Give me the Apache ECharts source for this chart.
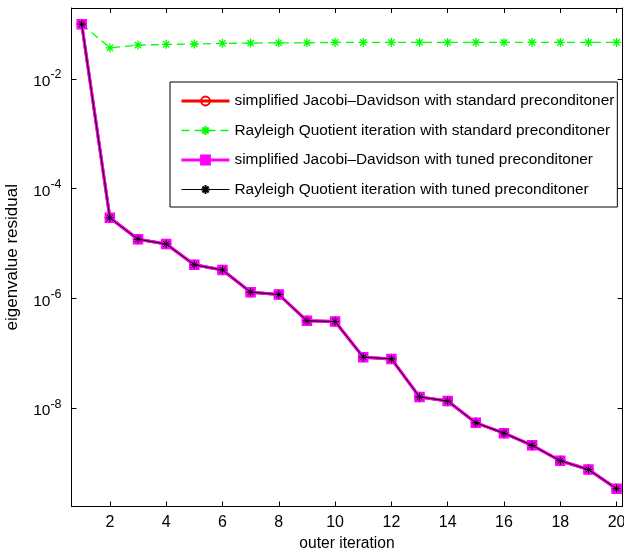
<!DOCTYPE html>
<html>
<head>
<meta charset="utf-8">
<script src="https://cdn.jsdelivr.net/npm/echarts@6/dist/echarts.min.js"></script>
<style>
html,body{margin:0;padding:0;background:#fff;}
#chart{width:624px;height:552px;}
</style>
</head>
<body>
<div id="chart"></div>
<script>
// ---- data ----
const iterations = [1,2,3,4,5,6,7,8,9,10,11,12,13,14,15,16,17,18,19,20];
const jdStandard  = [0.1, 2.95e-5, 1.2e-5, 9.8e-6, 4.1e-6, 3.3e-6, 1.3e-6, 1.18e-6, 3.9e-7, 3.8e-7, 8.5e-8, 7.9e-8, 1.6e-8, 1.35e-8, 5.4e-9, 3.5e-9, 2.1e-9, 1.1e-9, 7.6e-10, 3.4e-10];
const rqiStandard = [0.1, 0.037, 0.0415, 0.0428, 0.0433, 0.0446, 0.0451, 0.0457, 0.0457, 0.0464, 0.0464, 0.0464, 0.0464, 0.0464, 0.0464, 0.0464, 0.0464, 0.0464, 0.0464, 0.0464];
const jdTuned     = [0.1, 2.95e-5, 1.2e-5, 9.8e-6, 4.1e-6, 3.3e-6, 1.3e-6, 1.18e-6, 3.9e-7, 3.8e-7, 8.5e-8, 7.9e-8, 1.6e-8, 1.35e-8, 5.4e-9, 3.5e-9, 2.1e-9, 1.1e-9, 7.6e-10, 3.4e-10];
const rqiTuned    = [0.1, 2.95e-5, 1.2e-5, 9.8e-6, 4.1e-6, 3.3e-6, 1.3e-6, 1.18e-6, 3.9e-7, 3.8e-7, 8.5e-8, 7.9e-8, 1.6e-8, 1.35e-8, 5.4e-9, 3.5e-9, 2.1e-9, 1.1e-9, 7.6e-10, 3.4e-10];
const seriesNames = [
  'simplified Jacobi\u2013Davidson with standard preconditoner',
  'Rayleigh Quotient iteration with standard preconditoner',
  'simplified Jacobi\u2013Davidson with tuned preconditoner',
  'Rayleigh Quotient iteration with tuned preconditoner'
];
const xTicks = [2,4,6,8,10,12,14,16,18,20];
const yTickExponents = [-8,-6,-4,-2];
const xLabel = 'outer iteration';
const yLabel = 'eigenvalue residual';

// ---- build chart ----
const FONT = '"Liberation Sans", Arial, Helvetica, sans-serif';
const STAR = 'path://M5,0L5,10M0,5L10,5M1.5,1.5L8.5,8.5M1.5,8.5L8.5,1.5';
const toPts = arr => iterations.map((x, i) => [x, Math.log10(arr[i])]);

const X_MIN = 0.637, X_MAX = 20.21, Y_MIN = -9.793, Y_MAX = -0.706;

const chart = echarts.init(document.getElementById('chart'), null, {renderer: 'canvas'});
const axisLineStyle = {show: true, lineStyle: {color: '#000', width: 1}};
const tickStyle = (vals) => ({show: true, inside: true, length: 5, customValues: vals, lineStyle: {color: '#000', width: 1}});
const legendWidths = [3, 1.3, 3, 1];

chart.setOption({
  animation: false,
  backgroundColor: '#fff',
  grid: {left: 71.5, top: 8, right: 1.5, bottom: 45.5, containLabel: false, outerBoundsMode: 'none'},
  xAxis: [
    {
      type: 'value', min: X_MIN, max: X_MAX, position: 'bottom',
      axisLine: Object.assign({onZero: false}, axisLineStyle),
      axisTick: tickStyle(xTicks),
      axisLabel: {customValues: xTicks, color: '#000', fontSize: 16, fontFamily: FONT, margin: 8},
      splitLine: {show: false},
      name: xLabel, nameLocation: 'middle', nameGap: 29,
      nameTextStyle: {color: '#000', fontSize: 15.6, fontFamily: FONT}
    },
    {
      type: 'value', min: X_MIN, max: X_MAX, position: 'top',
      axisLine: Object.assign({onZero: false}, axisLineStyle),
      axisTick: tickStyle(xTicks),
      axisLabel: {show: false},
      splitLine: {show: false}
    }
  ],
  yAxis: [
    {
      type: 'value', min: Y_MIN, max: Y_MAX, position: 'left',
      axisLine: Object.assign({onZero: false}, axisLineStyle),
      axisTick: tickStyle(yTickExponents),
      axisLabel: {
        customValues: yTickExponents, margin: 10,
        formatter: v => '{b|10}{s|' + Math.round(v) + '}',
        rich: {
          b: {fontSize: 15.5, fontFamily: FONT, color: '#000', padding: [6, 0, 0, 0]},
          s: {fontSize: 12.5, fontFamily: FONT, color: '#000', padding: [0, 0, 8, 0]}
        }
      },
      splitLine: {show: false},
      name: yLabel, nameLocation: 'middle', nameGap: 51, nameRotate: 90,
      nameTextStyle: {color: '#000', fontSize: 17, fontFamily: FONT}
    },
    {
      type: 'value', min: Y_MIN, max: Y_MAX, position: 'right',
      axisLine: Object.assign({onZero: false}, axisLineStyle),
      axisTick: tickStyle(yTickExponents),
      axisLabel: {show: false},
      splitLine: {show: false}
    }
  ],
  legend: {
    orient: 'vertical', left: 170, top: 82, z: 10,
    backgroundColor: '#fff', borderColor: '#000', borderWidth: 1,
    padding: [11.5, 3, 10, 10], itemGap: 14.5, itemWidth: 48, itemHeight: 11,
    textStyle: {color: '#000', fontSize: 15.4, fontFamily: FONT},
    data: seriesNames.map((n, i) => ({name: n, lineStyle: {width: legendWidths[i]}})),
    selectedMode: false
  },
  series: [
    {
      name: seriesNames[0], type: 'line', data: toPts(jdStandard), z: 2,
      color: '#ff0000',
      symbol: 'circle', symbolSize: 8,
      lineStyle: {color: '#ff0000', width: 3},
      itemStyle: {color: 'rgba(0,0,0,0)', borderColor: '#ff0000', borderWidth: 2.5},
      silent: true
    },
    {
      name: seriesNames[1], type: 'line', data: toPts(rqiStandard), z: 3,
      color: '#00ff00',
      symbol: STAR, symbolSize: 9,
      lineStyle: {color: '#00ff00', width: 1.3, type: [8, 5]},
      itemStyle: {color: '#00ff00', borderColor: '#00ff00', borderWidth: 1.3},
      silent: true
    },
    {
      name: seriesNames[2], type: 'line', data: toPts(jdTuned), z: 4,
      color: '#ff00ff',
      symbol: 'rect', symbolSize: 9,
      lineStyle: {color: '#ff00ff', width: 3},
      itemStyle: {color: '#ff00ff', borderColor: '#ff00ff', borderWidth: 1.5},
      silent: true
    },
    {
      name: seriesNames[3], type: 'line', data: toPts(rqiTuned), z: 5,
      color: '#000000',
      symbol: STAR, symbolSize: 8,
      lineStyle: {color: '#000000', width: 1},
      itemStyle: {color: '#000000', borderColor: '#000000', borderWidth: 1},
      silent: true
    }
  ]
});
</script>
</body>
</html>
